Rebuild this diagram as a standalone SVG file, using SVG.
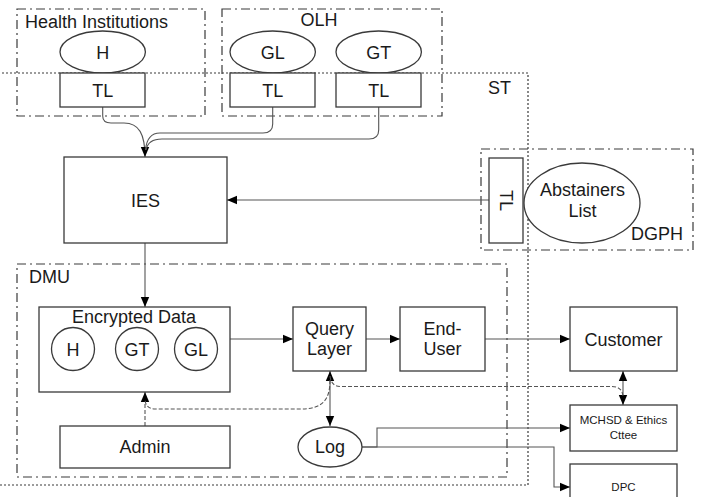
<svg xmlns="http://www.w3.org/2000/svg" width="706" height="497" viewBox="0 0 706 497">
<style>
text{font-family:"Liberation Sans",Arial,sans-serif;fill:#1a1a1a;text-anchor:middle}
.big{font-size:18px}
.sm{font-size:11.5px}
.lbl{text-anchor:start}
.box{fill:#fff;stroke:#3a3a3a;stroke-width:1.3}
.grp{fill:none;stroke:#3a3a3a;stroke-width:1.2;stroke-dasharray:9 4 2 4}
.st{fill:none;stroke:#3a3a3a;stroke-width:1.2;stroke-dasharray:2 2}
.c{fill:none;stroke:#555;stroke-width:1.1}
.d{fill:none;stroke:#555;stroke-width:1.1;stroke-dasharray:4 2}
</style>
<defs>
<marker id="ah" viewBox="0 0 10 10" refX="10" refY="5" markerWidth="10" markerHeight="10" markerUnits="userSpaceOnUse" orient="auto-start-reverse">
<path d="M0,0.8 L10,5 L0,9.2 z" fill="#000"/>
</marker>
</defs>
<rect width="706" height="497" fill="#fff"/>

<g id="groups">
<rect class="grp" x="17" y="9" width="188" height="107"/>
<text class="big lbl" x="25" y="27.5">Health Institutions</text>
<rect class="grp" x="222" y="9" width="220" height="107"/>
<text class="big" x="319" y="25.5">OLH</text>
<rect class="st" x="-2" y="73" width="530" height="412"/>
<text class="big lbl" x="488" y="93.5">ST</text>
<rect class="grp" x="481" y="149" width="212" height="101"/>
<text class="big lbl" x="631" y="240">DGPH</text>
<rect class="grp" x="17" y="264" width="490" height="213"/>
<text class="big lbl" x="29" y="282.5">DMU</text>
</g>

<g id="connectors">
<path class="c" d="M102.7,107 V116 Q102.7,123 111,123 H124 C139,123 145,134 145,157" marker-end="url(#ah)"/>
<path class="c" d="M272.7,107 V124 Q272.7,133 263,133 H160 Q147,133 145.5,150"/>
<path class="c" d="M378.7,107 V130 Q378.7,139 369,139 H162 Q148,139 146,150"/>
<path class="c" d="M489,200 H227" marker-end="url(#ah)"/>
<path class="c" d="M145,243 V307" marker-end="url(#ah)"/>
<path class="c" d="M230,339 H293" marker-end="url(#ah)"/>
<path class="c" d="M366,339 H400" marker-end="url(#ah)"/>
<path class="c" d="M485,339 H570" marker-end="url(#ah)"/>
<path class="c" d="M623,371 V405" marker-start="url(#ah)" marker-end="url(#ah)"/>
<path class="c" d="M330,371 V426" marker-start="url(#ah)" marker-end="url(#ah)"/>
<path class="d" d="M145,426 V392" marker-end="url(#ah)"/>
<path class="d" d="M330,380 C330,401 322,409 300,409 H155 Q146,409 145,400"/>
<path class="d" d="M330,376 Q331,386.5 341,386.5 H612 Q622,386.5 623,396"/>
<path class="c" d="M362,447 H377 V428 H570" marker-end="url(#ah)"/>
<path class="c" d="M362,447 H554 V487 H570" marker-end="url(#ah)"/>
</g>

<g id="H">
<ellipse class="box" cx="102.7" cy="52" rx="42.7" ry="21"/>
<text class="big" x="102.7" y="58.5">H</text>
</g>
<g id="TL-H">
<rect class="box" x="60" y="73" width="85" height="34"/>
<text class="big" x="102.7" y="96.5">TL</text>
</g>
<g id="GL">
<ellipse class="box" cx="272.7" cy="52" rx="42.7" ry="21"/>
<text class="big" x="272.7" y="58.5">GL</text>
</g>
<g id="TL-GL">
<rect class="box" x="230" y="73" width="85" height="34"/>
<text class="big" x="272.7" y="96.5">TL</text>
</g>
<g id="GT">
<ellipse class="box" cx="378.7" cy="52" rx="42.7" ry="21"/>
<text class="big" x="378.7" y="58.5">GT</text>
</g>
<g id="TL-GT">
<rect class="box" x="336" y="73" width="85" height="34"/>
<text class="big" x="378.7" y="96.5">TL</text>
</g>
<g id="IES">
<rect class="box" x="64" y="157" width="163" height="86"/>
<text class="big" x="145.5" y="206.5">IES</text>
</g>
<g id="TL-DGPH">
<rect class="box" x="489" y="158" width="34" height="85"/>
<text class="big" transform="translate(506,200.5) rotate(90)" y="6.5">TL</text>
</g>
<g id="AbstainersList">
<ellipse class="box" cx="582" cy="203" rx="58" ry="40"/>
<text class="big" x="582.5" y="195.5">Abstainers</text>
<text class="big" x="582.5" y="216.5">List</text>
</g>
<g id="EncryptedData">
<rect class="box" x="39" y="307" width="191" height="85"/>
<text class="big" x="134" y="323">Encrypted Data</text>
<circle class="box" cx="73" cy="349" r="21.5"/>
<text class="big" x="73" y="355.5">H</text>
<circle class="box" cx="137" cy="349" r="21.5"/>
<text class="big" x="137" y="355.5">GT</text>
<circle class="box" cx="196" cy="349" r="21.5"/>
<text class="big" x="196" y="355.5">GL</text>
</g>
<g id="QueryLayer">
<rect class="box" x="293" y="307" width="73" height="64"/>
<text class="big" x="329.5" y="334.5">Query</text>
<text class="big" x="329.5" y="355">Layer</text>
</g>
<g id="EndUser">
<rect class="box" x="400" y="307" width="85" height="64"/>
<text class="big" x="442.5" y="334.5">End-</text>
<text class="big" x="442.5" y="355">User</text>
</g>
<g id="Customer">
<rect class="box" x="570" y="307" width="107" height="64"/>
<text class="big" x="623.5" y="345.5">Customer</text>
</g>
<g id="MCHSD">
<rect class="box" x="570" y="405" width="107" height="46"/>
<text class="sm" x="623.5" y="424">MCHSD &amp; Ethics</text>
<text class="sm" x="623.5" y="439">Cttee</text>
</g>
<g id="DPC">
<rect class="box" x="570" y="464" width="107" height="45"/>
<text class="sm" x="623.5" y="491">DPC</text>
</g>
<g id="Admin">
<rect class="box" x="60" y="426" width="170" height="42"/>
<text class="big" x="145" y="453">Admin</text>
</g>
<g id="Log">
<ellipse class="box" cx="330" cy="447" rx="32" ry="20"/>
<text class="big" x="330" y="453">Log</text>
</g>
</svg>
